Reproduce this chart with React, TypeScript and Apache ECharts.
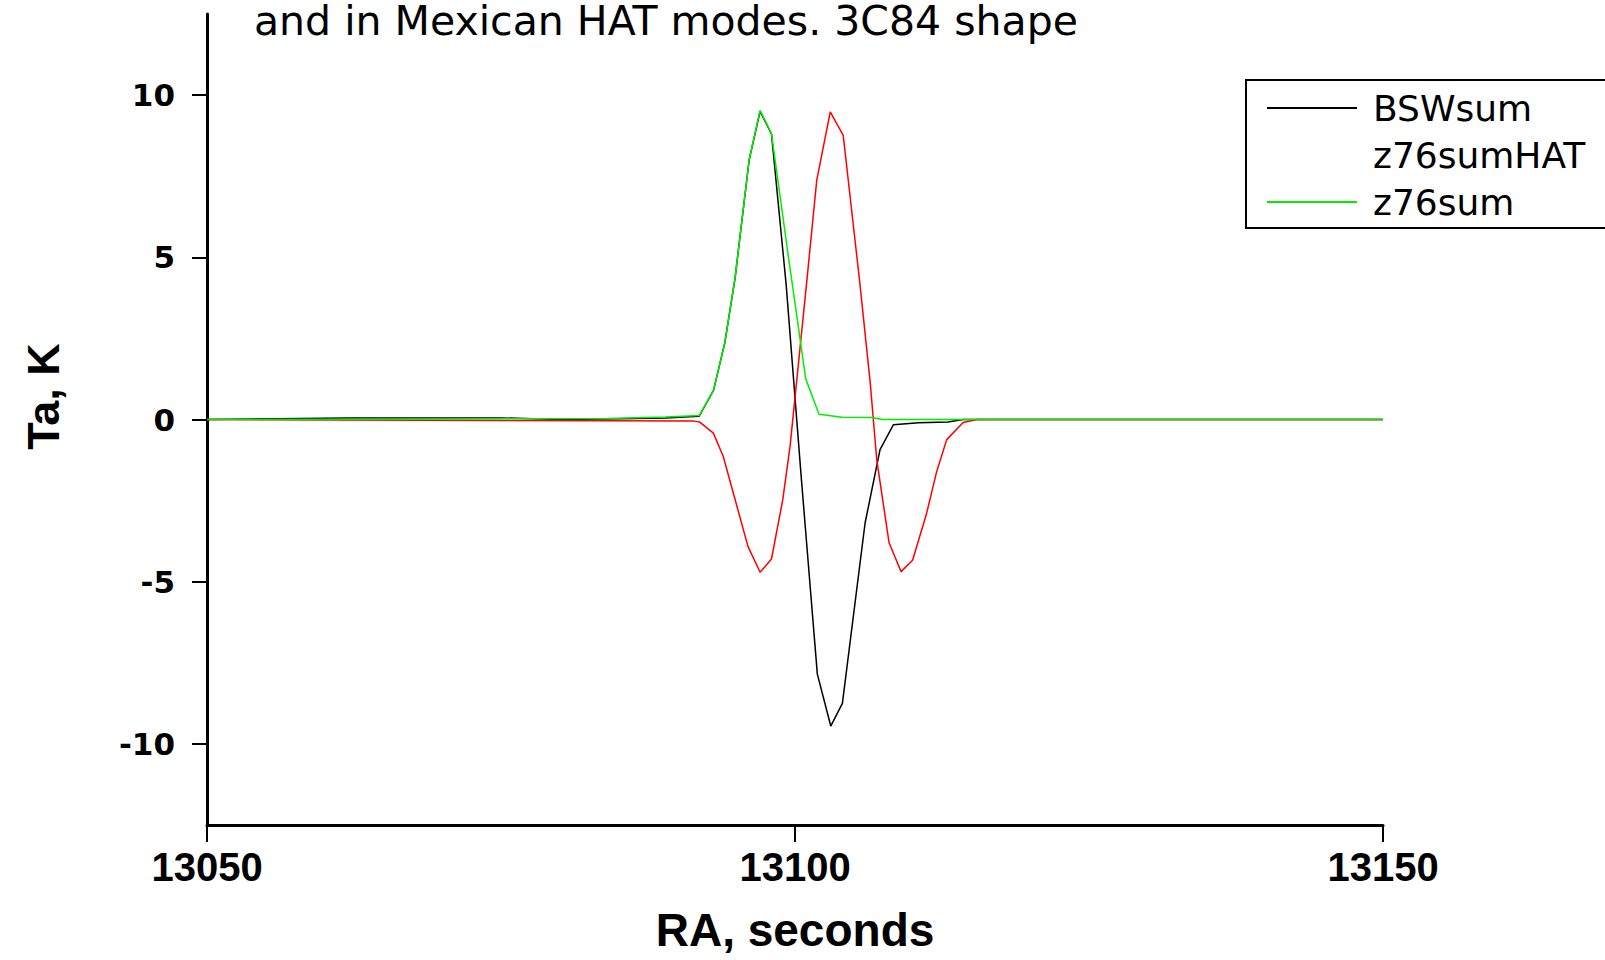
import React, { useEffect, useRef } from "react";
import * as echarts from "echarts";

const titleText = "and in Mexican HAT modes. 3C84 shape";
const seriesNames = ["BSWsum", "z76sumHAT", "z76sum"];
const xTickInterval = 50;
const yTicks = [-10, -5, 0, 5, 10];

const bswX = [13050, 13062, 13075, 13080, 13085, 13089, 13091.85, 13093.07, 13094.03, 13094.9, 13096.1, 13097.03, 13098.0, 13099.25, 13100.55, 13101.9, 13103.04, 13104.03, 13105.96, 13107.23, 13108.37, 13110.5, 13113.0, 13114.3, 13150];
const bswY = [0, 0.05, 0.05, 0, 0.02, 0.05, 0.1, 0.9, 2.36, 4.35, 8.0, 9.5, 8.8, 4.15, -1.87, -7.85, -9.45, -8.75, -3.19, -0.93, -0.16, -0.1, -0.08, 0, 0];

const hatX = [13050, 13084, 13091.4, 13091.9, 13093.06, 13093.9, 13096.0, 13097.03, 13098.0, 13098.96, 13099.58, 13101.0, 13101.85, 13103.0, 13104.1, 13105.5, 13106.4, 13106.95, 13108.0, 13109.02, 13110.0, 13111.2, 13112.05, 13112.9, 13114.3, 13115.5, 13150];
const hatY = [0, -0.04, -0.05, -0.08, -0.42, -1.14, -3.91, -4.71, -4.3, -2.47, -0.83, 4.25, 7.38, 9.48, 8.76, 4.25, 1.12, -1.24, -3.8, -4.69, -4.34, -2.88, -1.6, -0.62, -0.09, 0, 0];

const sumX = [13050, 13084, 13089, 13091.85, 13093.07, 13094.03, 13094.9, 13096.1, 13097.03, 13098.0, 13099.43, 13100.91, 13102.04, 13104.0, 13106.5, 13107.5, 13150];
const sumY = [0, 0.03, 0.08, 0.12, 0.9, 2.36, 4.35, 8.0, 9.53, 8.81, 5.04, 1.26, 0.16, 0.07, 0.06, 0, 0];

const colors = ["#000000", "#ff0000", "#00ee00"];

const zip = (xs: number[], ys: number[]) => xs.map((x, i) => [x, ys[i]]);

export default function App() {
  const ref = useRef<HTMLDivElement>(null);
  useEffect(() => {
    if (!ref.current) return;
    const chart = echarts.init(ref.current, null, { renderer: "svg" });
    const datasets = [zip(bswX, bswY), zip(hatX, hatY), zip(sumX, sumY)];
    chart.setOption({
      animation: false,
      backgroundColor: "#ffffff",
      title: {
        text: titleText,
        left: 254,
        top: 0,
        padding: 0,
        textStyle: { fontFamily: "DejaVu Sans", fontSize: 41, fontWeight: "normal", color: "#000" },
      },
      legend: {
        orient: "vertical",
        left: 1246,
        top: 80,
        padding: [10, 40, 8, 20],
        itemWidth: 90,
        itemHeight: 20,
        itemGap: 11,
        borderColor: "#000",
        borderWidth: 2,
        backgroundColor: "#fff",
        selectedMode: false,
        itemStyle: { opacity: 0 },
        textStyle: { fontFamily: "DejaVu Sans", fontSize: 36, color: "#000", padding: [0, 0, 0, 11] },
        data: [
          { name: seriesNames[0] },
          { name: seriesNames[1], lineStyle: { opacity: 0 }, itemStyle: { opacity: 0 } },
          { name: seriesNames[2] },
        ],
      },
      grid: { left: 207, right: 222, top: 14, bottom: 135, outerBoundsMode: "none", containLabel: false },
      xAxis: {
        type: "value",
        min: 13050,
        max: 13150,
        interval: xTickInterval,
        name: "RA, seconds",
        nameLocation: "middle",
        nameGap: 82,
        nameTextStyle: { fontFamily: "Liberation Sans", fontWeight: "bold", fontSize: 46, color: "#000" },
        axisLine: { onZero: false, lineStyle: { color: "#000", width: 3 } },
        axisTick: { show: true, inside: false, length: 17, lineStyle: { color: "#000", width: 2 } },
        axisLabel: {
          margin: 22,
          fontFamily: "Liberation Sans",
          fontWeight: "bold",
          fontSize: 40,
          color: "#000",
          formatter: (v: number) => String(v),
        },
        splitLine: { show: false },
      },
      yAxis: {
        type: "value",
        min: -12.5,
        max: 12.5,
        name: "Ta, K",
        nameLocation: "middle",
        nameGap: 141,
        nameTextStyle: { fontFamily: "Liberation Sans", fontWeight: "bold", fontSize: 45, color: "#000", padding: [0, 0, 0, 46] },
        axisLine: { show: true, onZero: false, lineStyle: { color: "#000", width: 3 } },
        axisTick: { show: true, inside: false, length: 15, customValues: yTicks, lineStyle: { color: "#000", width: 2 } },
        axisLabel: {
          margin: 32,
          customValues: yTicks,
          fontFamily: "DejaVu Sans",
          fontWeight: "bold",
          fontSize: 31,
          color: "#000",
          formatter: (v: number) => String(v),
        },
        splitLine: { show: false },
      },
      series: seriesNames.map((name, i) => ({
        name,
        type: "line",
        data: datasets[i],
        symbol: "none",
        showSymbol: false,
        lineStyle: { color: colors[i], width: 1.5 },
        itemStyle: { color: colors[i] },
        z: 2 + i,
      })),
    });
    return () => chart.dispose();
  }, []);
  return (
    <div
      ref={ref}
      style={{ position: "fixed", left: 0, top: 0, width: 1605, height: 960, background: "#fff" }}
    />
  );
}
